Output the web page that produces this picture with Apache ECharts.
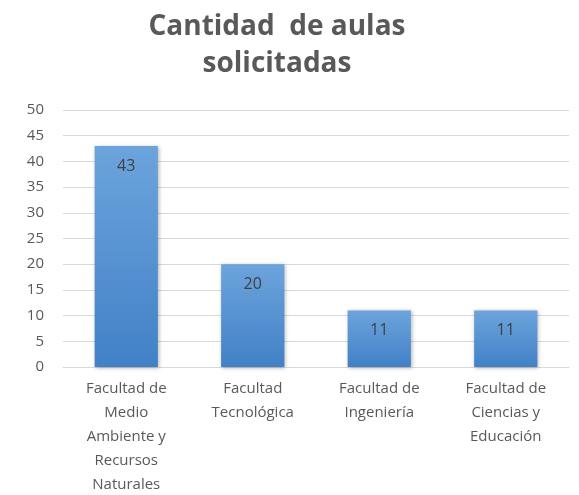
<!DOCTYPE html>
<html>
<head>
<meta charset="utf-8">
<script src="https://cdn.jsdelivr.net/npm/echarts@6/dist/echarts.min.js"></script>
<style>
  html, body { margin: 0; padding: 0; background: #fff; }
  #chart { width: 579px; height: 495px; }
</style>
</head>
<body>
<div id="chart"></div>
<script>
// facultades (con saltos de línea como en el gráfico original)
const categories = [
  'Facultad de\nMedio\nAmbiente y\nRecursos\nNaturales',
  'Facultad\nTecnológica',
  'Facultad de\nIngeniería',
  'Facultad de\nCiencias y\nEducación'
];
const aulas = [43, 20, 11, 11];
const yMin = 0;
const yMax = 50;
const yStep = 5;

const chart = echarts.init(document.getElementById('chart'));

const option = {
  animation: false,
  title: {
    text: 'Cantidad  de aulas\nsolicitadas',
    left: 272,
    textAlign: 'center',
    top: 4,
    textStyle: {
      fontFamily: 'Open Sans',
      fontWeight: 'bold',
      fontSize: 28,
      lineHeight: 37,
      color: '#595959'
    }
  },
  grid: {
    left: 63,
    right: 10,
    top: 110,
    bottom: 128,
    outerBoundsMode: 'none'
  },
  xAxis: {
    type: 'category',
    data: categories,
    axisLine: { lineStyle: { color: '#d9d9d9' } },
    axisTick: { show: false },
    axisLabel: {
      interval: 0,
      margin: 10,
      fontFamily: 'Open Sans',
      fontSize: 15,
      lineHeight: 24,
      color: '#595959'
    }
  },
  yAxis: {
    type: 'value',
    min: yMin,
    max: yMax,
    interval: yStep,
    axisLine: { show: false },
    axisTick: { show: false },
    axisLabel: {
      margin: 19,
      fontFamily: 'Open Sans',
      fontSize: 15,
      color: '#595959'
    },
    splitLine: { lineStyle: { color: '#d9d9d9', width: 1 } }
  },
  series: [
    {
      type: 'bar',
      data: aulas,
      barWidth: '50%',
      itemStyle: {
        color: new echarts.graphic.LinearGradient(0, 0, 0, 1, [
          { offset: 0, color: '#6ca4dc' },
          { offset: 1, color: '#4281c7' }
        ]),
        shadowBlur: 4,
        shadowColor: 'rgba(0,0,0,0.3)',
        shadowOffsetX: 1,
        shadowOffsetY: 1
      },
      label: {
        show: true,
        position: 'insideTop',
        distance: 12,
        fontFamily: 'Open Sans',
        fontSize: 16,
        color: '#404040'
      }
    }
  ]
};

chart.setOption(option);
</script>
</body>
</html>
